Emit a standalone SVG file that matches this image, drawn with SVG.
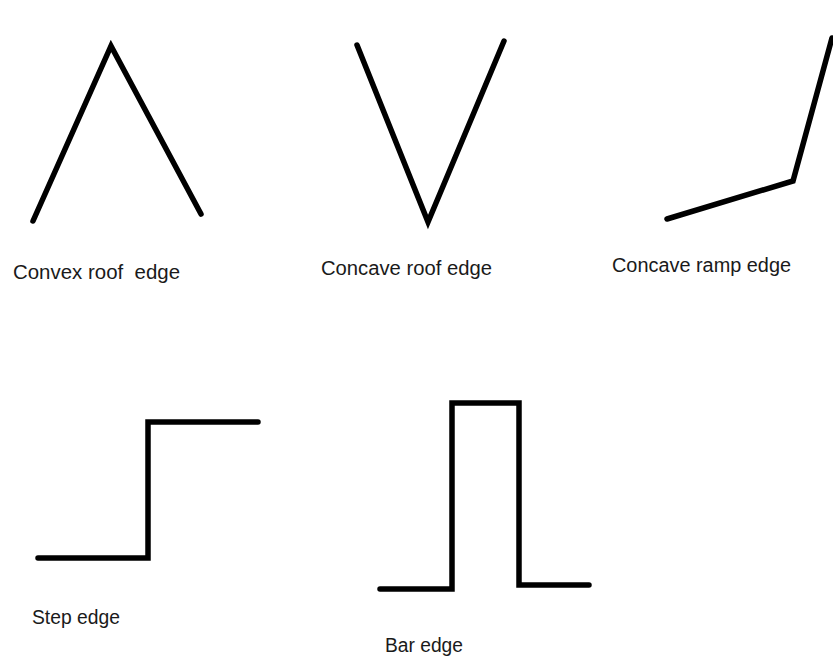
<svg xmlns="http://www.w3.org/2000/svg" width="833" height="658" viewBox="0 0 833 658">
<style>
.ln{fill:none;stroke:#000;stroke-width:5.5;stroke-linejoin:miter;stroke-linecap:round}
.lb{font-family:"Liberation Sans",Arial,sans-serif;font-size:20px;fill:#1a1a1a}
</style>
<rect width="833" height="658" fill="#fff"/>
<g id="convex-roof">
<polyline class="ln" points="33,221 111,46 201,214"/>
<text class="lb" x="13" y="279" textLength="167" lengthAdjust="spacingAndGlyphs" xml:space="preserve">Convex roof  edge</text>
</g>
<g id="concave-roof">
<polyline class="ln" points="357,45 428,222 504,41"/>
<text class="lb" x="321" y="275" textLength="171" lengthAdjust="spacingAndGlyphs">Concave roof edge</text>
</g>
<g id="concave-ramp">
<polyline class="ln" points="667,219 793,181 832,38"/>
<text class="lb" x="612" y="272" textLength="179" lengthAdjust="spacingAndGlyphs">Concave ramp edge</text>
</g>
<g id="step">
<polyline class="ln" points="38,558 148,558 148,422 258,422"/>
<text class="lb" x="32" y="624" textLength="88" lengthAdjust="spacingAndGlyphs">Step edge</text>
</g>
<g id="bar">
<polyline class="ln" points="380,589 452,589 452,403 519,403 519,585 589,585"/>
<text class="lb" x="385" y="652" textLength="78" lengthAdjust="spacingAndGlyphs">Bar edge</text>
</g>
</svg>
